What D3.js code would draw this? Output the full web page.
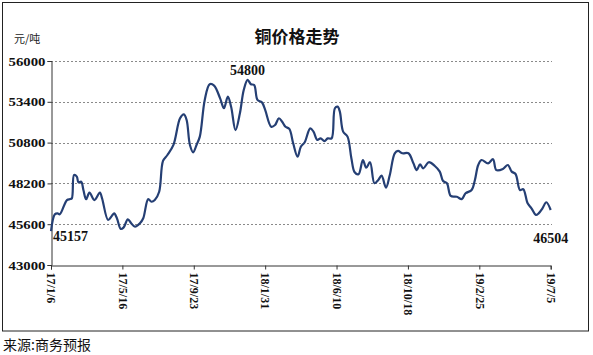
<!DOCTYPE html>
<html><head><meta charset="utf-8">
<script src="https://cdn.jsdelivr.net/npm/d3@7/dist/d3.min.js"></script>
<style>body{margin:0;background:#fff;}svg{display:block;}</style>
</head><body>
<svg id="c" width="593" height="355"></svg>
<script>
// ---- data ----
const startDate = "2017-01-06";
// day offsets from 2017-01-06
const dayOffsets = [0,7,12,16,29,35,38,42,47,50,55,59,64,70,79,89,93,104,111,115,120,127,132,140,146,153,162,168,177,183,189,197,204,212,223,235,242,247,253,259,265,271,280,289,297,308,315,322,328,336,344,351,358,364,370,376,384,390,401,408,415,421,427,434,441,449,455,462,472,478,485,491,498,504,511,517,522,526,532,540,547,553,560,568,574,581,589,596,602,610,617,626,632,640,651,660,666,672,678,688,699,708,714,721,728,739,748,755,766,772,778,784,796,805,811,823,832,839,846,854,860,868,875,883,888,895,902,910];
const prices = [45157,46230,46290,46230,47140,47200,47250,48740,48630,48270,48310,47780,47190,47610,47140,47610,47250,45870,46140,46290,45980,45300,45380,45910,45660,45440,45660,45980,47200,47030,47140,47670,49630,50010,50650,52350,52600,52240,50650,50180,50650,51180,53520,54520,54430,53620,52990,53730,53090,51600,52670,54150,54800,54520,54470,53520,53370,52880,51810,51920,52350,52130,51810,51670,50760,49900,50540,50820,51710,51500,50970,51070,50900,51070,51070,52990,53090,52770,51500,51180,49800,48910,48780,49690,49200,49550,48210,48420,48690,47930,48740,50120,50270,50120,50120,49480,49050,49420,49160,49550,49310,48950,48350,48210,47400,47350,47200,47570,47780,48420,49370,49690,49480,49740,49050,49120,49370,48950,48800,47780,47830,46930,46610,46190,46290,46610,47000,46504];
const yTicks = [43000,45600,48200,50800,53400,56000];
const xTickLabels = ["17/1/6","17/5/16","17/9/23","18/1/31","18/6/10","18/10/18","19/2/25","19/7/5"];
const xTickDays = [0,130,260,390,520,650,780,910];
const annotations = [{day:0,value:45157,label:"45157"},{day:358,value:54800,label:"54800"},{day:910,value:46504,label:"46504"}];
const title = "铜价格走势";
const unit = "元/吨";
const source = "来源:商务预报";

// ---- drawing ----
const svg = d3.select("#c");
const t0 = d3.timeParse("%Y-%m-%d")(startDate);
const toDate = d => d3.timeDay.offset(t0, d);
const x = d3.scaleTime().domain([toDate(0), toDate(910)]).range([51, 550.7]);
const y = d3.scaleLinear().domain([43000,56000]).range([265, 61]);
const serif = "'Liberation Serif','Times New Roman',serif";
const cjk = "'Noto Sans CJK SC','Noto Sans',sans-serif";

svg.append("rect").attr("x",2.5).attr("y",2.5).attr("width",586).attr("height",328.5)
  .attr("fill","none").attr("stroke","#222").attr("stroke-width",1);

// grid
svg.append("g").selectAll("line").data(yTicks.slice(1)).join("line")
  .attr("x1",51).attr("x2",552).attr("y1",d=>Math.round(y(d))+0.5).attr("y2",d=>Math.round(y(d))+0.5)
  .attr("stroke","#8a8a8a").attr("stroke-width",1).attr("stroke-dasharray","2,2");

// y axis
const yAxis = svg.append("g").attr("transform","translate(51.5,0)")
  .call(d3.axisLeft(y).tickValues(yTicks).tickSize(4).tickFormat(d3.format("d")));
yAxis.select(".domain").attr("stroke","#333");
yAxis.selectAll(".tick line").attr("stroke","#333");
yAxis.selectAll("text").attr("font-family",serif).attr("font-weight","bold").attr("font-size",13)
  .attr("fill","#111").attr("x",-6).attr("textLength",37).attr("lengthAdjust","spacingAndGlyphs");

// x axis
const xAxis = svg.append("g").attr("transform","translate(0,265.5)")
  .call(d3.axisBottom(x).tickValues(xTickDays.map(toDate)).tickSize(4).tickFormat((d,i)=>xTickLabels[i]));
xAxis.select(".domain").attr("stroke","#333");
xAxis.selectAll(".tick line").attr("stroke","#333");
xAxis.selectAll("text").attr("font-family",serif).attr("font-weight","bold").attr("font-size",12)
  .attr("fill","#111").attr("transform","rotate(90)").attr("text-anchor","start")
  .attr("x",7).attr("y",0).attr("dy","0.35em");

// line
const data = dayOffsets.map((d,i)=>({date:toDate(d), value:prices[i]}));
svg.append("path").datum(data)
  .attr("fill","none").attr("stroke","#253f74").attr("stroke-width",2.2).attr("stroke-linejoin","round")
  .attr("d", d3.line().x(d=>x(d.date)).y(d=>y(d.value)).curve(d3.curveCatmullRom.alpha(0.5)));

// annotations
const annPos = [{dx:2,dy:10,anchor:"start"},{dx:0,dy:-5,anchor:"middle"},{dx:0,dy:33,anchor:"middle"}];
svg.append("g").selectAll("text").data(annotations).join("text")
  .attr("x",(d,i)=>x(toDate(d.day))+annPos[i].dx)
  .attr("y",(d,i)=>y(d.value)+annPos[i].dy)
  .attr("text-anchor",(d,i)=>annPos[i].anchor)
  .attr("font-family",serif).attr("font-weight","bold").attr("font-size",14).attr("fill","#111")
  .text(d=>d.label);

// title & labels
svg.append("text").attr("x",297).attr("y",43).attr("text-anchor","middle")
  .attr("font-family",cjk).attr("font-weight","bold").attr("font-size",17).attr("fill","#111").text(title);
svg.append("text").attr("x",14).attr("y",43)
  .attr("font-family",cjk).attr("font-size",11).attr("fill","#222").text(unit);
svg.append("text").attr("x",3).attr("y",350)
  .attr("font-family",cjk).attr("font-size",14).attr("fill","#111").text(source);
</script>
</body></html>
